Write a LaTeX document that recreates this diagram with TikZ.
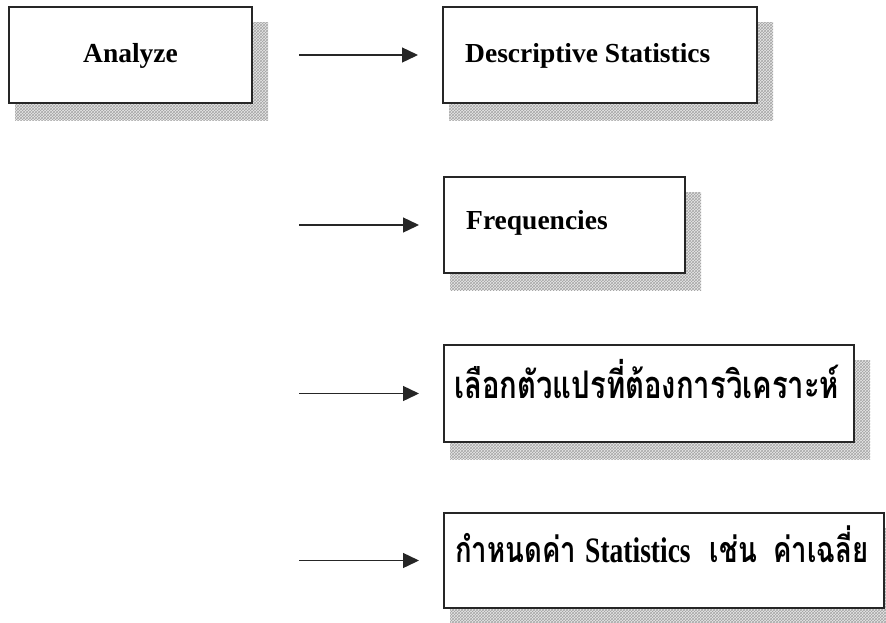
\documentclass[tikz,border=0pt]{standalone}
\usepackage{fontspec}
\setmainfont{Liberation Serif}
\newfontfamily\thaifont[Script=Thai]{Loma}
\usetikzlibrary{arrows.meta,patterns,backgrounds}
\tikzset{
  box/.style={draw=black!85, line width=1.5pt, fill=white, inner sep=0pt, outer sep=0pt, anchor=north west},
  shadowfill/.style={preaction={fill=gray!18}, pattern=crosshatch, pattern color=gray!70},
  arr/.style={draw=black!85, line width=1.4pt, -{Triangle[length=16pt,width=15pt]}, shorten >=25pt},
  lbl/.style={inner sep=0pt, font=\fontsize{27.5}{30}\selectfont\bfseries},
  thlbl/.style={inner sep=0pt, anchor=west}
}
\begin{document}
\begin{tikzpicture}[x=1pt,y=-1pt]
\useasboundingbox (0,0) rectangle (886,622);
% boxes
\node[box, minimum width=243pt, minimum height=96pt] (b0) at (9,7) {};
\node[box, minimum width=314pt, minimum height=96pt] (b1) at (443,7) {};
\node[box, minimum width=241pt, minimum height=96pt] (b2) at (444,177) {};
\node[box, minimum width=410pt, minimum height=97pt] (b3) at (444,345) {};
\node[box, minimum width=440pt, minimum height=95pt] (b4) at (444,513) {};
% shadows
\begin{scope}[on background layer]
  \foreach \b in {b0,b1,b2,b3,b4}{
    \path[shadowfill] ([xshift=6pt,yshift=-15pt]\b.north west) rectangle ([xshift=16pt,yshift=-17pt]\b.south east);
  }
\end{scope}
% labels
\node[lbl] (t0) at ([yshift=-1pt]b0.center) {Analyze};
\node[lbl, anchor=west] (t1) at ([xshift=22pt,yshift=-1pt]b1.west) {Descriptive Statistics};
\node[lbl, anchor=west] (t2) at ([xshift=22pt,yshift=2pt]b2.west) {Frequencies};
\node[thlbl] (t3) at ([xshift=10pt,yshift=14pt]b3.west) {\resizebox{385pt}{!}{\scalebox{1}[1.3]{\thaifont\bfseries เลือกตัวแปรที่ต้องการวิเคราะห์}}};
\node[thlbl] (t4) at ([xshift=11pt,yshift=16pt]b4.west) {\resizebox{413pt}{!}{\scalebox{1}[1.3]{\thaifont\bfseries กำหนดค่า {\rmfamily\bfseries Statistics}\hspace{0.7em}เช่น\hspace{0.6em}ค่าเฉลี่ย}}};
% arrows
\coordinate (s1) at (299,55);
\coordinate (s2) at (299,225);
\coordinate (s3) at (299,393.5);
\coordinate (s4) at (299,560.5);
\draw[arr] (s1) -- (b1);
\draw[arr] (s2) -- (b2);
\draw[arr] (s3) -- (b3);
\draw[arr] (s4) -- (b4);
\end{tikzpicture}
\end{document}
